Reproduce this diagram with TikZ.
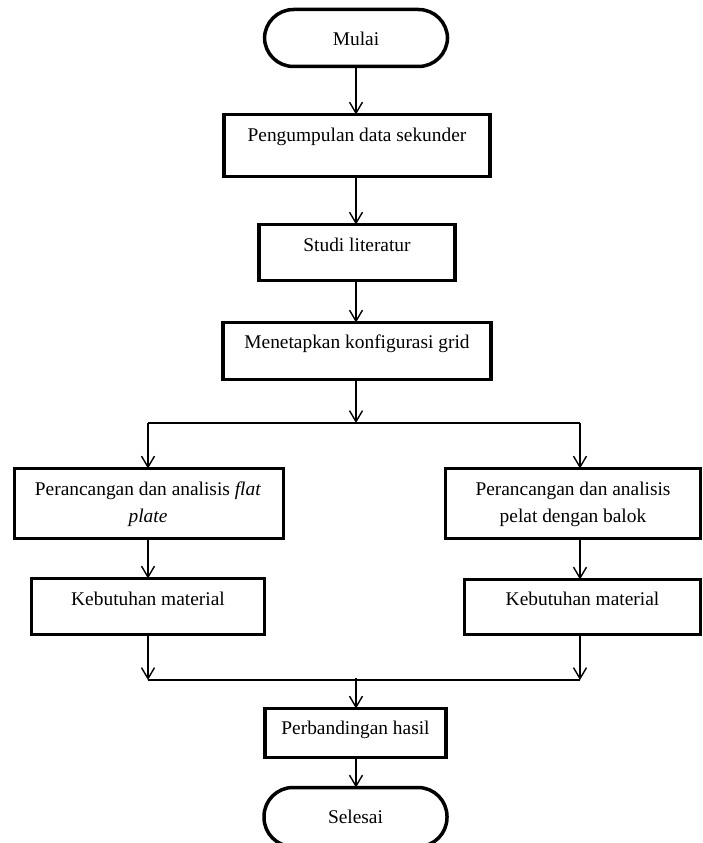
\documentclass[tikz,border=0pt]{standalone}
\usepackage{fontspec}
\setmainfont{Liberation Serif}
\usetikzlibrary{arrows.meta,calc}
\begin{document}
\begin{tikzpicture}[x=1pt,y=-1pt,
  box/.style={draw, line width=3.5pt, inner sep=0pt, outer sep=0pt},
  term/.style={draw, line width=3.5pt, inner sep=0pt, outer sep=0pt, rounded corners=29pt},
  txt/.style={inner sep=0pt, font=\fontsize{19.4}{27}\selectfont, align=center},
  conn/.style={line width=1.4pt},
  arr/.style={line width=1.4pt, -{Straight Barb[length=11pt,width=13pt,line width=1.4pt]}}]
\useasboundingbox (0,0) rectangle (703,843);

% boxes
\node[term, minimum width=183pt, minimum height=57pt] (start) at (356,38) {};
\node[txt, anchor=base] (tstart) at (356,46) {Mulai};

\node[box, minimum width=266pt, minimum height=62pt] (b1) at (357,145.5) {};
\node[txt, anchor=base] (t1) at (357,141) {Pengumpulan data sekunder};

\node[box, minimum width=196pt, minimum height=56pt] (b2) at (357,252.5) {};
\node[txt, anchor=base] (t2) at (357,251) {Studi literatur};

\node[box, minimum width=268pt, minimum height=57pt] (b3) at (357,351) {};
\node[txt, anchor=base] (t3) at (357,348) {Menetapkan konfigurasi grid};

\node[box, minimum width=269pt, minimum height=70pt] (b4L) at (149,503.5) {};
\node[txt, anchor=base] (t4L) at (148,522) {Perancangan dan analisis \textit{flat}\\ \textit{plate}};

\node[box, minimum width=255pt, minimum height=70pt] (b4R) at (573,503.5) {};
\node[txt, anchor=base] (t4R) at (573,522) {Perancangan dan analisis\\ pelat dengan balok};

\node[box, minimum width=233pt, minimum height=56pt] (b5L) at (148,606.5) {};
\node[txt, anchor=base] (t5L) at (148,605) {Kebutuhan material};

\node[box, minimum width=236pt, minimum height=55pt] (b5R) at (582.5,607) {};
\node[txt, anchor=base] (t5R) at (582.5,605) {Kebutuhan material};

\node[box, minimum width=181pt, minimum height=49pt] (b6) at (355.5,733) {};
\node[txt, anchor=base] (t6) at (355.5,734) {Perbandingan hasil};

\node[term, minimum width=183pt, minimum height=59pt] (end) at (355.5,817) {};
\node[txt, anchor=base] (tend) at (355.5,823) {Selesai};

% coordinates
\coordinate (split) at (356,423);
\coordinate (splitL) at (148,423);
\coordinate (splitR) at (580,423);
\coordinate (joinL) at (148,680);
\coordinate (joinR) at (580,680);
\coordinate (join) at (356,678);

% connectors
\draw[arr] (start.south -| split) -- (b1.north -| split);
\draw[arr] (b1.south -| split) -- (b2.north -| split);
\draw[arr] (b2.south -| split) -- (b3.north -| split);
\draw[arr] (b3.south -| split) -- (split);
\draw[conn] (splitL) -- (splitR);
\draw[arr] (splitL) -- (splitL |- b4L.north);
\draw[arr] (splitR) -- (splitR |- b4R.north);
\draw[arr] (b4L.south -| splitL) -- (b5L.north -| splitL);
\draw[arr] (b4R.south -| splitR) -- (b5R.north -| splitR);
\draw[arr] (b5L.south -| joinL) -- (joinL);
\draw[arr] (b5R.south -| joinR) -- (joinR);
\draw[conn] (joinL) -- (joinR);
\draw[arr] (join) -- (b6.north -| join);
\draw[arr] (b6.south -| join) -- (end.north -| join);
\end{tikzpicture}
\end{document}
